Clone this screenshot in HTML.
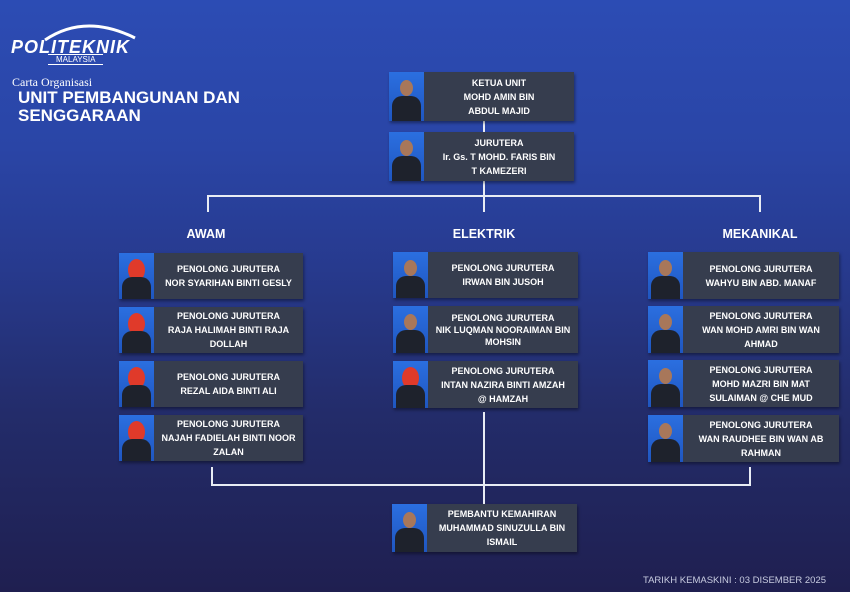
<!DOCTYPE html>
<html><head><meta charset="utf-8"><style>
*{margin:0;padding:0;box-sizing:border-box}
body{width:850px;height:592px;overflow:hidden;position:relative;font-family:"Liberation Sans",sans-serif;
background:linear-gradient(180deg,#2c4cb4 0%,#2a45a6 25%,#273a8e 45%,#232c6a 70%,#1f1f50 100%)}
.c{position:absolute;display:flex;background:#363d4e;box-shadow:1px 2px 3px rgba(0,0,0,.4)}
.p{width:35px;height:100%;background:linear-gradient(180deg,#2b6fe0,#1f56c0);position:relative;overflow:hidden;flex:none}
.p:before{content:"";position:absolute;left:11px;top:8px;width:13px;height:16px;border-radius:50%;background:#a8775a}
.p:after{content:"";position:absolute;left:3px;top:24px;width:29px;height:30px;border-radius:10px 10px 0 0;background:#1e222c}
.p.f:before{background:#e03a2a;width:17px;left:9px;height:22px;top:6px}
.t{flex:1;color:#fff;font-weight:bold;font-size:9px;line-height:14px;text-align:center;display:flex;flex-direction:column;justify-content:center;padding:0 2px}
.l{position:absolute;background:#e8ecf4}
.h{position:absolute;color:#fff;font-weight:bold;font-size:12.5px;transform:translateX(-50%)}
</style></head><body>
<div style="position:absolute;left:11px;top:37px;color:#fff;font-weight:bold;font-size:18px;letter-spacing:1px;font-style:italic">POLITEKNIK</div>
<svg style="position:absolute;left:40px;top:18px" width="100" height="25"><path d="M5 22 Q45 -5 95 20" stroke="#fff" stroke-width="3" fill="none"/></svg>
<div style="position:absolute;left:48px;top:54px;color:#fff;font-size:8px;border-top:1px solid #fff;border-bottom:1px solid #fff;padding:0 8px;line-height:9px">MALAYSIA</div>
<div style="position:absolute;left:12px;top:75px;color:#fff;font-family:'Liberation Serif',serif;font-size:12px">Carta Organisasi</div>
<div style="position:absolute;left:18px;top:89px;color:#fff;font-weight:bold;font-size:17px;line-height:18px">UNIT PEMBANGUNAN DAN<br>SENGGARAAN</div>

<div class="l" style="left:483px;top:121px;width:2px;height:11px"></div>
<div class="l" style="left:483px;top:181px;width:2px;height:15px"></div>
<div class="l" style="left:207px;top:195px;width:554px;height:2px"></div>
<div class="l" style="left:207px;top:195px;width:2px;height:17px"></div>
<div class="l" style="left:483px;top:195px;width:2px;height:17px"></div>
<div class="l" style="left:759px;top:195px;width:2px;height:17px"></div>
<div class="l" style="left:211px;top:467px;width:2px;height:18px"></div>
<div class="l" style="left:749px;top:467px;width:2px;height:18px"></div>
<div class="l" style="left:211px;top:484px;width:540px;height:2px"></div>
<div class="l" style="left:483px;top:412px;width:2px;height:92px"></div>

<div class="h" style="left:206px;top:227px">AWAM</div>
<div class="h" style="left:484px;top:227px">ELEKTRIK</div>
<div class="h" style="left:760px;top:227px">MEKANIKAL</div>

<div class="c" style="left:389px;top:72px;width:185px;height:49px"><div class="p"></div><div class="t">KETUA UNIT<br>MOHD AMIN BIN<br>ABDUL MAJID</div></div>
<div class="c" style="left:389px;top:132px;width:185px;height:49px"><div class="p"></div><div class="t">JURUTERA<br>Ir. Gs. T MOHD. FARIS BIN<br>T KAMEZERI</div></div>

<div class="c" style="left:119px;top:253px;width:184px;height:46px"><div class="p f"></div><div class="t">PENOLONG JURUTERA<br>NOR SYARIHAN BINTI GESLY</div></div>
<div class="c" style="left:119px;top:307px;width:184px;height:46px"><div class="p f"></div><div class="t">PENOLONG JURUTERA<br>RAJA HALIMAH BINTI RAJA<br>DOLLAH</div></div>
<div class="c" style="left:119px;top:361px;width:184px;height:46px"><div class="p f"></div><div class="t">PENOLONG JURUTERA<br>REZAL AIDA BINTI ALI</div></div>
<div class="c" style="left:119px;top:415px;width:184px;height:46px"><div class="p f"></div><div class="t">PENOLONG JURUTERA<br>NAJAH FADIELAH BINTI NOOR<br>ZALAN</div></div>

<div class="c" style="left:393px;top:252px;width:185px;height:46px"><div class="p"></div><div class="t">PENOLONG JURUTERA<br>IRWAN BIN JUSOH</div></div>
<div class="c" style="left:393px;top:306px;width:185px;height:47px"><div class="p"></div><div class="t" style="line-height:12px">PENOLONG JURUTERA<br>NIK LUQMAN NOORAIMAN BIN<br>MOHSIN</div></div>
<div class="c" style="left:393px;top:361px;width:185px;height:47px"><div class="p f"></div><div class="t">PENOLONG JURUTERA<br>INTAN NAZIRA BINTI AMZAH<br>@ HAMZAH</div></div>

<div class="c" style="left:648px;top:252px;width:191px;height:47px"><div class="p"></div><div class="t">PENOLONG JURUTERA<br>WAHYU BIN ABD. MANAF</div></div>
<div class="c" style="left:648px;top:306px;width:191px;height:47px"><div class="p"></div><div class="t">PENOLONG JURUTERA<br>WAN MOHD AMRI BIN WAN<br>AHMAD</div></div>
<div class="c" style="left:648px;top:360px;width:191px;height:47px"><div class="p"></div><div class="t">PENOLONG JURUTERA<br>MOHD MAZRI BIN MAT<br>SULAIMAN @ CHE MUD</div></div>
<div class="c" style="left:648px;top:415px;width:191px;height:47px"><div class="p"></div><div class="t">PENOLONG JURUTERA<br>WAN RAUDHEE BIN WAN AB<br>RAHMAN</div></div>

<div class="c" style="left:392px;top:504px;width:185px;height:48px"><div class="p"></div><div class="t">PEMBANTU KEMAHIRAN<br>MUHAMMAD SINUZULLA BIN<br>ISMAIL</div></div>

<div style="position:absolute;left:643px;top:575px;color:#c8cce0;font-size:9.5px">TARIKH KEMASKINI : 03 DISEMBER 2025</div>
</body></html>
